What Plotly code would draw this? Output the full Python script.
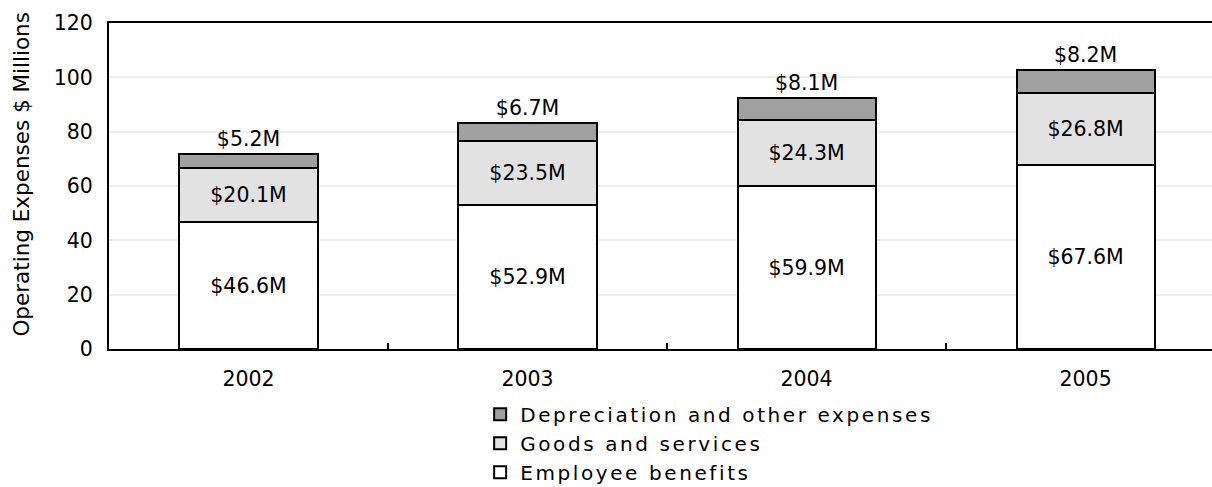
import plotly.graph_objects as go

years = ["2002", "2003", "2004", "2005"]
employee_benefits = [46.6, 52.9, 59.9, 67.6]
goods_and_services = [20.1, 23.5, 24.3, 26.8]
depreciation_other = [5.2, 6.7, 8.1, 8.2]

FONT = "DejaVu Sans"
FS = 20.5
BLACK = "#000000"


def money(vals):
    return [f"${v:.1f}M" for v in vals]


def font(size=FS):
    return dict(family=FONT, size=size, color=BLACK)


fig = go.Figure()
fig.add_trace(go.Bar(
    name="Employee benefits", x=years, y=employee_benefits,
    text=money(employee_benefits), textposition="inside",
    insidetextanchor="middle",
    marker=dict(color="#ffffff", line=dict(color=BLACK, width=2)),
))
fig.add_trace(go.Bar(
    name="Goods and services", x=years, y=goods_and_services,
    text=money(goods_and_services), textposition="inside",
    insidetextanchor="middle",
    marker=dict(color="#e2e2e2", line=dict(color=BLACK, width=2)),
))
fig.add_trace(go.Bar(
    name="Depreciation and other expenses", x=years, y=depreciation_other,
    text=money(depreciation_other), textposition="outside",
    marker=dict(color="#a0a0a0", line=dict(color=BLACK, width=2)),
))

fig.update_traces(
    textfont=font(), insidetextfont=font(), outsidetextfont=font(),
    cliponaxis=False, hoverinfo="skip",
)

fig.update_layout(
    width=1212, height=487,
    margin=dict(l=109, r=0, t=23, b=138, autoexpand=False),
    barmode="stack", bargap=0.505,
    plot_bgcolor="#ffffff", paper_bgcolor="#ffffff",
    font=font(),
    uniformtext=dict(minsize=FS, mode="show"),
    showlegend=True,
    legend=dict(
        x=0.3365, y=-0.1402, xanchor="left", yanchor="top",
        traceorder="reversed", orientation="v",
        font=font(20), itemwidth=30,
        bgcolor="rgba(0,0,0,0)",
    ),
    xaxis=dict(
        type="category", range=[-0.5, 3.453],
        showline=True, linecolor=BLACK, linewidth=2, mirror=True,
        ticks="inside", ticklen=6, tickcolor=BLACK, tickwidth=2,
        tickson="boundaries", showgrid=False,
        tickfont=font(), ticklabelstandoff=10,
    ),
    yaxis=dict(
        range=[0, 120], dtick=20, tick0=0,
        showline=True, linecolor=BLACK, linewidth=2,
        ticks="", showgrid=True, gridcolor="#eeeeee", gridwidth=2,
        zeroline=False,
        tickfont=font(), ticklabelstandoff=10,
    ),
    annotations=[dict(
        text="Operating Expenses $ Millions", textangle=-90,
        xref="paper", yref="paper", x=0, y=0.535,
        xanchor="center", yanchor="middle", xshift=-87,
        showarrow=False, font=font(21.5),
    )],
)

# widen the tracking of the legend labels and let them run past the legend box
legend_spacing = (
    "document.querySelectorAll('.legendtext').forEach(function(t){"
    "t.style.letterSpacing='2.6px';});"
    "document.querySelectorAll('.legend [clip-path]').forEach(function(g){"
    "g.removeAttribute('clip-path');});"
)

fig.write_html("out.html", post_script=legend_spacing)
